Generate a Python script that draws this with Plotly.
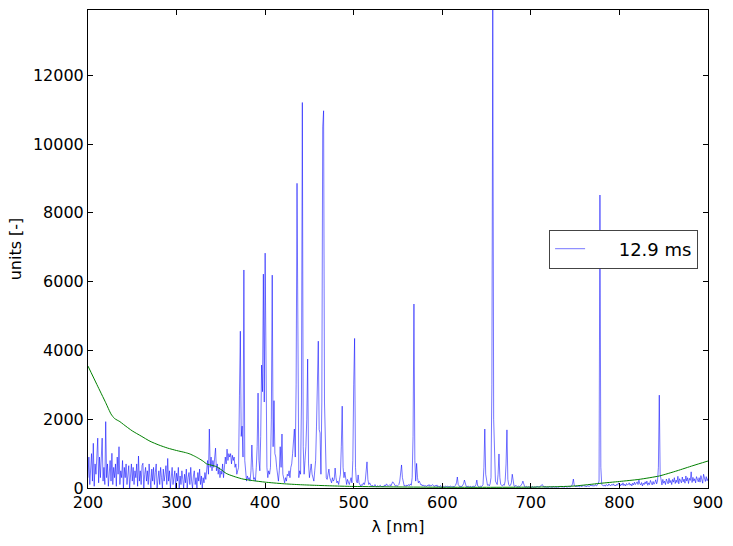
import numpy as np
import plotly.graph_objects as go

WL_START = 200
SPECTRUM = [
    300, 900, 100, 600, 1000, 200, 1300, 50, 700, 400,          # 200
    800, 1450, 150, 900, 300, 1100, 1450, 200, 600, 100,        # 210
    1930, 300, 700, 50, 500, 800, 200, 1010, 100, 600,          # 220
    300, 700, 50, 900, 400, 1200, 100, 500, 300, 800,           # 230
    0, 600, 300, 700, 100, 500, 650, 0, 400, 700,               # 240
    200, 600, 100, 500, 300, 700, 50, 930, 200, 500,            # 250
    100, 650, 720, 0, 400, 600, 200, 500, 100, 700,             # 260
    300, 0, 550, 200, 600, 100, 450, 700, 0, 400,               # 270
    500, 100, 600, 300, 0, 550, 200, 400, 650, 100,             # 280
    860, 200, 500, 0, 400, 600, 100, 300, 500, 0,               # 290
    430, 200, 600, 0, 350, 100, 500, 250, 0, 400,               # 300
    150, 550, 0, 300, 450, 100, 600, 200, 0, 350,               # 310
    500, 100, 300, 0, 450, 200, 550, 100, 350, 0,               # 320
    300, 150, 450, 250, 500, 800, 400, 1715, 600, 900,          # 330
    500, 800, 600, 900, 1160, 500, 700, 400, 600, 300,          # 340
    500, 400, 700, 300, 600, 900, 700, 1130, 800, 1000,         # 350
    900, 1000, 700, 950, 800, 900, 600, 700, 400, 500,          # 360
    600, 2700, 4560, 1500, 1800, 900, 6340, 800, 300, 200,      # 370
    350, 250, 300, 200, 500, 1250, 600, 250, 300, 200,          # 380
    600, 1200, 2760, 800, 500, 1500, 3575, 2800, 6220, 2500,    # 390
    6830, 1800, 600, 300, 500, 400, 600, 2000, 6190, 1200,      # 400
    2540, 1000, 900, 600, 300, 200, 500, 1200, 600, 1570,       # 410
    400, 200, 150, 300, 200, 400, 350, 500, 300, 600,           # 420
    700, 1000, 1300, 1715, 900, 3000, 8860, 1500, 300, 500,     # 430
    400, 2500, 11210, 1200, 400, 800, 1200, 2000, 3750, 700,    # 440
    300, 500, 700, 400, 300, 200, 500, 800, 1800, 3000,         # 450
    4270, 1700, 1600, 400, 2500, 10500, 10970, 2500, 1590, 300, # 460
    250, 400, 550, 300, 200, 150, 300, 200, 250, 580,           # 470
    300, 150, 200, 100, 250, 400, 1200, 2380, 600, 300,         # 480
    465, 200, 100, 250, 150, 100, 200, 300, 150, 800,           # 490
    3000, 4350, 600, 200, 150, 380, 150, 100, 50, 100,          # 500
    80, 150, 100, 200, 500, 760, 250, 100, 150, 100,            # 510
    50, 80, 40, 60, 100, 50, 30, 70, 40, 60,                    # 520
    80, 50, 30, 60, 40, 90, 60, 120, 80, 50,                    # 530
    70, 100, 60, 130, 180, 150, 90, 60, 80, 50,                 # 540
    70, 100, 200, 400, 670, 300, 100, 60, 80, 50,               # 550
    90, 60, 100, 70, 120, 80, 300, 1500, 5350, 800,             # 560
    200, 715, 300, 150, 200, 120, 80, 100, 60, 90,              # 570
    50, 70, 40, 80, 60, 100, 50, 80, 70, 100,                   # 580
    60, 40, 80, 50, 90, 30, 60, 40, 70, 20,                     # 590
    30, 50, 20, 40, 60, 30, 50, 40, 30, 60,                     # 600
    40, 20, 50, 30, 60, 80, 150, 320, 100, 40,                  # 610
    30, 60, 40, 80, 120, 230, 90, 50, 30, 60,                   # 620
    40, 30, 50, 20, 40, 60, 30, 50, 100, 230,                   # 630
    60, 40, 30, 50, 40, 60, 100, 600, 1715, 400,                # 640
    150, 80, 100, 60, 120, 300, 3000, 13900, 2000, 500,         # 650
    200, 150, 100, 400, 990, 300, 100, 80, 60, 100,             # 660
    80, 200, 700, 1690, 250, 100, 60, 80, 150, 400,             # 670
    120, 60, 40, 80, 50, 30, 60, 40, 50, 80,                    # 680
    120, 200, 80, 40, 30, 50, 20, 40, 30, 20,                   # 690
    30, 20, 40, 10, 30, 20, 40, 30, 50, 20,                     # 700
    40, 60, 80, 100, 50, 30, 20, 40, 10, 30,                    # 710
    20, 40, 30, 10, 20, 30, 40, 20, 30, 10,                     # 720
    30, 20, 40, 30, 60, 20, 40, 30, 20, 50,                     # 730
    30, 40, 20, 50, 30, 40, 60, 120, 260, 80,                   # 740
    40, 30, 60, 40, 50, 30, 70, 40, 60, 50,                     # 750
    80, 40, 60, 30, 70, 50, 40, 80, 60, 90,                     # 760
    50, 70, 60, 100, 60, 80, 120, 200, 8520, 600,               # 770
    100, 80, 60, 90, 50, 100, 70, 60, 120, 80,                  # 780
    60, 100, 80, 120, 70, 90, 60, 110, 80, 150,                 # 790
    90, 60, 120, 80, 150, 70, 110, 60, 130, 90,                 # 800
    100, 150, 80, 120, 60, 140, 90, 170, 100, 130,              # 810
    180, 100, 230, 120, 90, 160, 60, 140, 100, 180,             # 820
    120, 200, 80, 150, 100, 220, 130, 90, 190, 110,             # 830
    160, 240, 120, 200, 600, 2700, 400, 180, 90, 250,           # 840
    140, 200, 100, 260, 180, 120, 280, 150, 220, 100,           # 850
    250, 170, 300, 130, 230, 160, 340, 120, 270, 200,           # 860
    150, 320, 180, 260, 140, 350, 200, 300, 130, 280,           # 870
    220, 470, 160, 310, 200, 270, 150, 330, 240, 180,           # 880
    300, 170, 360, 230, 140, 400, 250, 190, 330, 210,           # 890
    280,                                                        # 900
]
WAVELENGTHS = list(range(WL_START, WL_START + len(SPECTRUM)))
assert len(SPECTRUM) == 701, len(SPECTRUM)

# Reference (green) curve
REF_WL = [200, 210, 220, 226, 230, 236, 240, 250, 260, 270, 280, 290, 300, 310,
          315, 320, 325, 330, 334, 340, 345, 350, 356, 360, 368, 375, 386, 400,
          420, 440, 460, 480, 500, 550, 600, 650, 700, 733, 750, 778, 800, 822,
          845, 865, 883, 900]
REF_VAL = [3545, 3010, 2480, 2150, 2020, 1930, 1850, 1660, 1510, 1360, 1250, 1160,
           1090, 1030, 990, 930, 860, 780, 700, 660, 620, 540, 425, 380, 310, 260,
           215, 170, 125, 95, 75, 58, 45, 30, 22, 20, 25, 40, 60, 135, 190, 250,
           350, 500, 650, 785]

LEGEND_LABEL = "12.9 ms"
X_TICKS = [200, 300, 400, 500, 600, 700, 800, 900]
Y_TICKS = [0, 2000, 4000, 6000, 8000, 10000, 12000]

fig = go.Figure()
fig.add_trace(go.Scatter(
    x=WAVELENGTHS, y=SPECTRUM, mode="lines",
    name="\u00a0\u00a0\u00a0\u00a0\u00a0" + LEGEND_LABEL,
    line=dict(color="rgba(0,0,255,0.6)", width=0.9),
))
fig.add_trace(go.Scatter(
    x=REF_WL, y=REF_VAL, mode="lines", showlegend=False,
    line=dict(color="#008000", width=1, shape="spline", smoothing=0.6),
))

axis_common = dict(
    showline=True, linecolor="black", linewidth=1, mirror="ticks",
    ticks="inside", ticklen=5, tickcolor="black", tickwidth=1,
    showgrid=False, zeroline=False,
    tickfont=dict(family="DejaVu Sans", size=16, color="black"),
)

fig.update_layout(
    width=733, height=546,
    margin=dict(l=88, r=25, t=10, b=58),
    paper_bgcolor="white", plot_bgcolor="white",
    font=dict(family="DejaVu Sans", size=16, color="black"),
    xaxis=dict(range=[200, 900], tickvals=X_TICKS,
               ticktext=[str(v) for v in X_TICKS],
               title=dict(text="λ [nm]", font=dict(size=16), standoff=9),
               **axis_common),
    yaxis=dict(range=[0, 13900], tickvals=Y_TICKS,
               ticktext=[str(v) for v in Y_TICKS],
               title=dict(text="units [-]", font=dict(size=16), standoff=7),
               **axis_common),
    legend=dict(x=0.984, xanchor="right", y=0.5, yanchor="middle",
                bgcolor="white", bordercolor="#444", borderwidth=1,
                font=dict(family="DejaVu Sans", size=18, color="black")),
    showlegend=True,
)

fig.write_html("out.html")
